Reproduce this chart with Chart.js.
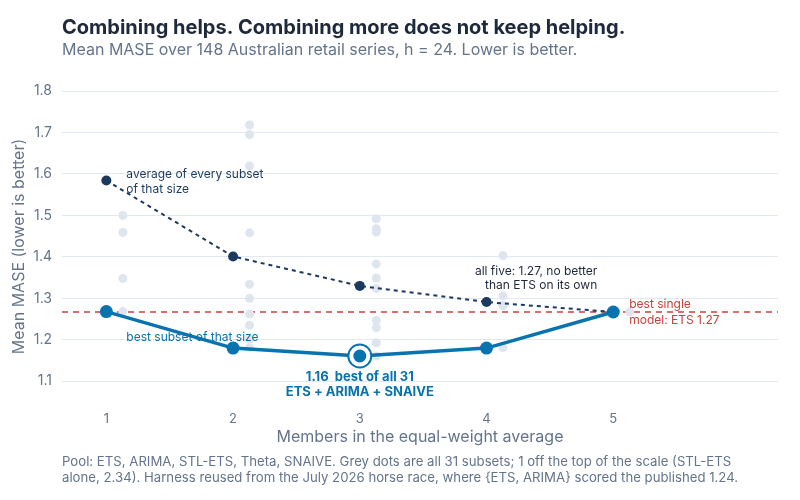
<!DOCTYPE html>
<html>
<head>
<meta charset="utf-8">
<script src="https://cdn.jsdelivr.net/npm/chart.js@4.4.1/dist/chart.umd.min.js"></script>
<style>
  body { margin: 0; background: #ffffff; }
  #wrap { width: 800px; height: 500px; }
</style>
</head>
<body>
<div id="wrap"><canvas id="chart" width="800" height="500"></canvas></div>
<script>
// subset sizes and mean MASE values
const sizes = [1, 2, 3, 4, 5];
const meanOfSubsets = [1.584, 1.401, 1.330, 1.291, 1.267];
const bestOfSize = [1.268, 1.180, 1.161, 1.180, 1.267];
const bestSingle = 1.267;

// every subset, grouped by size (2.34 sits off the top of the scale)
const subsetsSize1 = [1.268, 1.348, 1.459, 1.500, 2.34];
const subsetsSize2 = [1.718, 1.695, 1.619, 1.458, 1.334, 1.300, 1.262, 1.235, 1.202, 1.181];
const subsetsSize3 = [1.492, 1.468, 1.460, 1.383, 1.349, 1.324, 1.247, 1.229, 1.193, 1.161];
const subsetsSize4 = [1.403, 1.306, 1.283, 1.282, 1.181];
const subsetsSize5 = [1.267];

const yTicks = [1.1, 1.2, 1.3, 1.4, 1.5, 1.6, 1.7, 1.8];
const xTicks = [1, 2, 3, 4, 5];

const NAVY = '#1c3a5e';
const BLUE = '#0873ae';
const RED = '#c8413a';
const GREY_TXT = '#64748b';
const FONT = 'Inter, "Noto Sans", sans-serif';

const allSubsets = [subsetsSize1, subsetsSize2, subsetsSize3, subsetsSize4, subsetsSize5];
const jitter = 0.13; // grey dots sit just right of each size
const greyPoints = [];
allSubsets.forEach(function(list, i) {
    list.forEach(function(v) { greyPoints.push({ x: sizes[i] + jitter, y: v }); });
});

const bestIdx = bestOfSize.indexOf(Math.min.apply(null, bestOfSize));

const extras = {
    id: 'extras',
    beforeDatasetsDraw(chart) {
        const ctx = chart.ctx, a = chart.chartArea;
        const y = chart.scales.y.getPixelForValue(bestSingle);
        ctx.save();
        ctx.strokeStyle = RED;
        ctx.lineWidth = 1.5;
        ctx.setLineDash([6, 5]);
        ctx.beginPath();
        ctx.moveTo(a.left, y);
        ctx.lineTo(a.right, y);
        ctx.stroke();
        ctx.restore();
    },
    afterDatasetsDraw(chart) {
        const ctx = chart.ctx;
        const xs = chart.scales.x, ys = chart.scales.y;
        const px = xs.getPixelForValue(sizes[bestIdx]);
        const py = ys.getPixelForValue(bestOfSize[bestIdx]);
        ctx.save();
        ctx.beginPath();
        ctx.arc(px, py, 11.5, 0, Math.PI * 2);
        ctx.fillStyle = '#ffffff';
        ctx.fill();
        ctx.lineWidth = 2;
        ctx.strokeStyle = BLUE;
        ctx.stroke();
        ctx.beginPath();
        ctx.arc(px, py, 6.5, 0, Math.PI * 2);
        ctx.fillStyle = BLUE;
        ctx.fill();
        ctx.restore();
    },
    afterDraw(chart) {
        const ctx = chart.ctx;
        const xs = chart.scales.x, ys = chart.scales.y;
        ctx.save();
        ctx.textBaseline = 'middle';

        // title block
        ctx.textAlign = 'left';
        ctx.fillStyle = '#1e293b';
        ctx.font = 'bold 20px ' + FONT;
        ctx.fillText('Combining helps. Combining more does not keep helping.', 62, 28);
        ctx.fillStyle = GREY_TXT;
        ctx.font = '16px ' + FONT;
        ctx.fillText('Mean MASE over 148 Australian retail series, h = 24. Lower is better.', 62, 50);

        // footnote
        ctx.font = '13.2px ' + FONT;
        ctx.fillText('Pool: ETS, ARIMA, STL-ETS, Theta, SNAIVE. Grey dots are all 31 subsets; 1 off the top of the scale (STL-ETS', 62, 462);
        ctx.fillText('alone, 2.34). Harness reused from the July 2026 horse race, where {ETS, ARIMA} scored the published 1.24.', 62, 478);

        // annotations
        let x1 = xs.getPixelForValue(sizes[0]);
        let yAvg = ys.getPixelForValue(meanOfSubsets[0]);
        ctx.font = '12px ' + FONT;
        ctx.fillStyle = NAVY;
        ctx.fillText('average of every subset', x1 + 20, yAvg - 6);
        ctx.fillText('of that size', x1 + 20, yAvg + 9);

        ctx.fillStyle = BLUE;
        ctx.fillText('best subset of that size', x1 + 20, ys.getPixelForValue(bestOfSize[0]) + 26);

        const bx = xs.getPixelForValue(sizes[bestIdx]);
        const by = ys.getPixelForValue(bestOfSize[bestIdx]);
        ctx.textAlign = 'center';
        ctx.font = 'bold 13px ' + FONT;
        ctx.fillText(bestOfSize[bestIdx].toFixed(2) + '  best of all 31', bx, by + 21);
        ctx.fillText('ETS + ARIMA + SNAIVE', bx, by + 36);

        const x5 = xs.getPixelForValue(sizes[4]);
        const y4 = ys.getPixelForValue(meanOfSubsets[3]);
        ctx.textAlign = 'right';
        ctx.font = '12px ' + FONT;
        ctx.fillStyle = '#1e293b';
        ctx.fillText('all five: 1.27, no better', x5 - 16, y4 - 31);
        ctx.fillText('than ETS on its own', x5 - 16, y4 - 17);

        const yr = ys.getPixelForValue(bestSingle);
        ctx.textAlign = 'left';
        ctx.fillStyle = RED;
        ctx.fillText('best single', x5 + 16, yr - 8);
        ctx.fillText('model: ETS 1.27', x5 + 16, yr + 8);
        ctx.restore();
    }
};

new Chart(document.getElementById('chart'), {
    type: 'scatter',
    data: {
        datasets: [
            {
                label: 'all subsets',
                data: greyPoints,
                pointRadius: 4.5,
                pointBackgroundColor: '#dfe5ee',
                pointBorderWidth: 0,
                showLine: false,
                order: 3
            },
            {
                label: 'average of every subset',
                data: sizes.map((s, i) => ({ x: s, y: meanOfSubsets[i] })),
                showLine: true,
                borderColor: NAVY,
                borderWidth: 2,
                borderDash: [4, 4],
                pointRadius: 5,
                pointBackgroundColor: NAVY,
                pointBorderWidth: 0,
                order: 2
            },
            {
                label: 'best subset',
                data: sizes.map((s, i) => ({ x: s, y: bestOfSize[i] })),
                showLine: true,
                borderColor: BLUE,
                borderWidth: 3.5,
                pointRadius: 6.5,
                pointBackgroundColor: BLUE,
                pointBorderWidth: 0,
                order: 1
            }
        ]
    },
    options: {
        responsive: false,
        animation: false,
        layout: { padding: { top: 91, right: 22, bottom: 53, left: 0 } },
        plugins: {
            legend: { display: false },
            tooltip: { enabled: false }
        },
        scales: {
            x: {
                type: 'linear',
                min: 0.65,
                max: 6.3,
                afterBuildTicks: function(scale) { scale.ticks = xTicks.map(v => ({ value: v })); },
                afterFit: function(scale) { scale.height = 45; },
                grid: { display: false, drawTicks: false },
                border: { display: false },
                ticks: { color: GREY_TXT, font: { family: FONT, size: 13 }, padding: 9 },
                title: {
                    display: true,
                    text: 'Members in the equal-weight average',
                    color: GREY_TXT,
                    font: { family: FONT, size: 16 },
                    padding: { top: 0, bottom: 0 }
                }
            },
            y: {
                min: 1.05,
                max: 1.8,
                afterBuildTicks: function(scale) { scale.ticks = yTicks.map(v => ({ value: v })); },
                afterFit: function(scale) { scale.width = 62; },
                grid: { color: '#e2e8f0', lineWidth: 1, drawTicks: false },
                border: { display: false },
                ticks: {
                    color: GREY_TXT,
                    font: { family: FONT, size: 14 },
                    padding: 10,
                    callback: v => v.toFixed(1)
                },
                title: {
                    display: true,
                    text: 'Mean MASE (lower is better)',
                    color: GREY_TXT,
                    font: { family: FONT, size: 16 },
                    padding: { top: 10, bottom: 0 }
                }
            }
        }
    },
    plugins: [extras]
});
</script>
</body>
</html>
